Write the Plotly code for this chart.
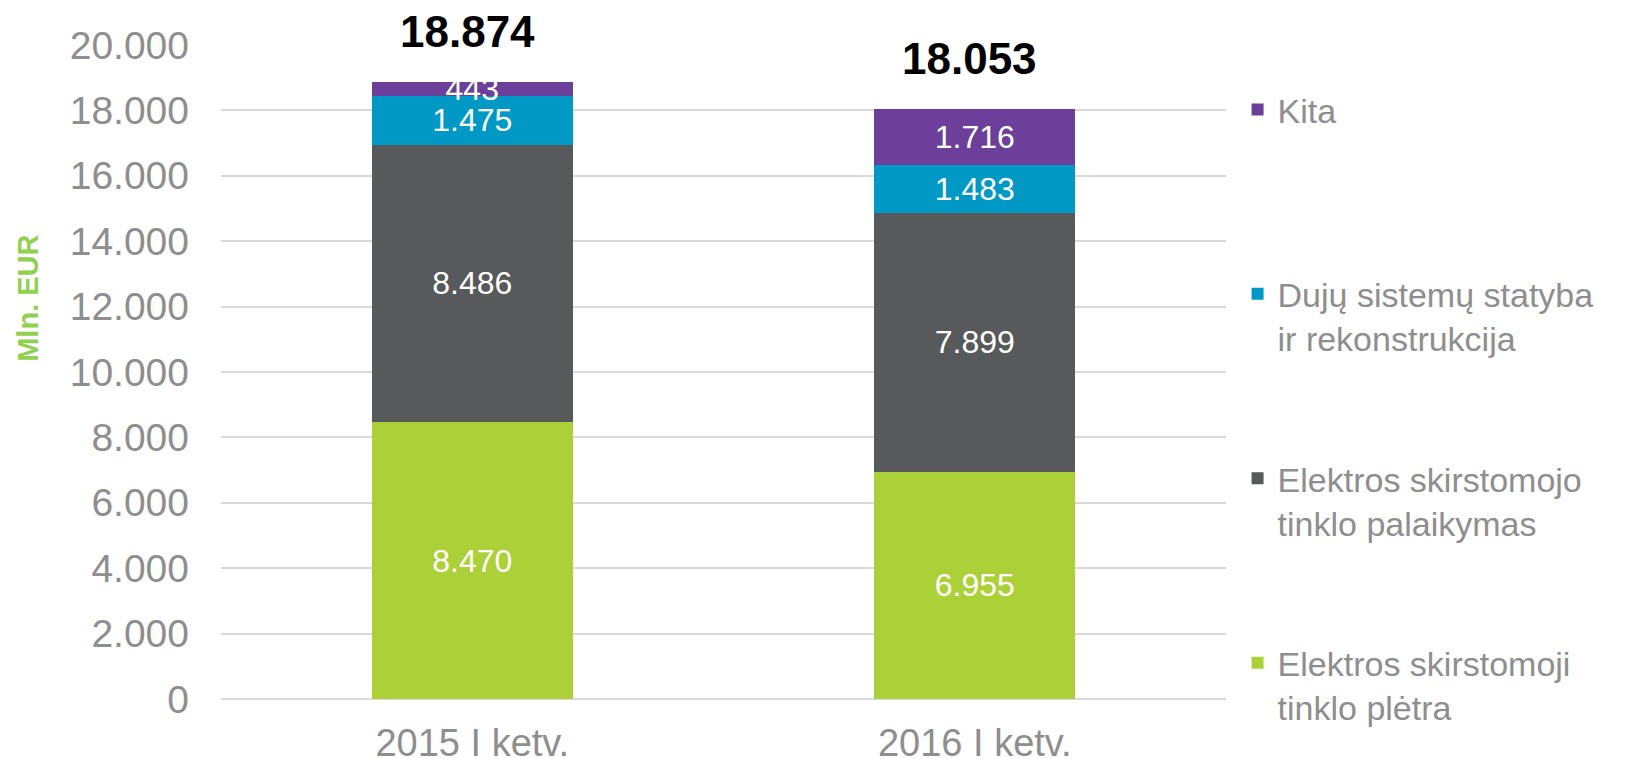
import plotly.graph_objects as go

categories = ["2015 I ketv.", "2016 I ketv."]
pletra = [8470, 6955]
palaikymas = [8486, 7899]
duju = [1475, 1483]
kita = [443, 1716]
totals = [18874, 18053]
tick_vals = [0, 2000, 4000, 6000, 8000, 10000, 12000, 14000, 16000, 18000, 20000]
tick_text = ["0", "2.000", "4.000", "6.000", "8.000", "10.000", "12.000", "14.000", "16.000", "18.000", "20.000"]

series = [
    ("Elektros skirstomoji<br>tinklo plėtra", pletra, "#acd037", 4),
    ("Elektros skirstomojo<br>tinklo palaikymas", palaikymas, "#58595b", 3),
    ("Dujų sistemų statyba<br>ir rekonstrukcija", duju, "#0099c6", 2),
    ("Kita<br> ", kita, "#6b3f9a", 1),
]

def fmt(v):
    return f"{v:,}".replace(",", ".")

FONT = "Liberation Sans, Arial, sans-serif"
fig = go.Figure()
for i, (name, vals, color, rank) in enumerate(series):
    fig.add_trace(go.Bar(
        x=categories, y=vals, name=name,
        marker=dict(color=color, line=dict(width=0)),
        text=[fmt(v) for v in vals], textposition="inside",
        insidetextanchor="middle", textangle=0,
        textfont=dict(color="white", size=32, family=FONT),
        legendgroup=f"g{i}", legendrank=rank, hoverinfo="skip",
    ))

for c, t in zip(categories, totals):
    fig.add_annotation(x=c, y=t, text=f"<b>{fmt(t)}</b>", showarrow=False,
                       yanchor="bottom", yshift=24, xshift=-5,
                       font=dict(size=44, color="black", family=FONT))

fig.add_annotation(xref="paper", yref="paper", x=-0.192, y=0.612, xanchor="center",
                   yanchor="middle", text="<b>Mln. EUR</b>",
                   textangle=-90, showarrow=False,
                   font=dict(size=29, color="#92d050", family=FONT))

fig.update_layout(
    width=1629, height=759,
    margin=dict(l=213, r=411, t=37, b=68, autoexpand=False),
    plot_bgcolor="white", paper_bgcolor="white",
    barmode="stack", bargap=0.6,
    uniformtext=dict(minsize=32, mode="show"),
    showlegend=True,
    legend=dict(xref="container", yref="container", x=0.7548, y=0.904,
                xanchor="left", yanchor="top", maxheight=759,
                traceorder="grouped", tracegroupgap=93, valign="top",
                font=dict(size=34, color="#8e8e8e", family=FONT)),
    xaxis=dict(showline=False, ticks="", ticklabelstandoff=18, automargin=False,
               tickfont=dict(size=38, color="#8e8e8e", family=FONT)),
    yaxis=dict(range=[0, 20000], tickvals=tick_vals, ticktext=tick_text,
               showgrid=True, gridcolor="#d9d9d9", gridwidth=2, automargin=False,
               zeroline=True, zerolinecolor="#d9d9d9", zerolinewidth=2,
               ticks="", ticklen=0, ticklabelstandoff=31,
               tickfont=dict(size=39, color="#8e8e8e", family=FONT)),
)

fig.write_html("out.html")
